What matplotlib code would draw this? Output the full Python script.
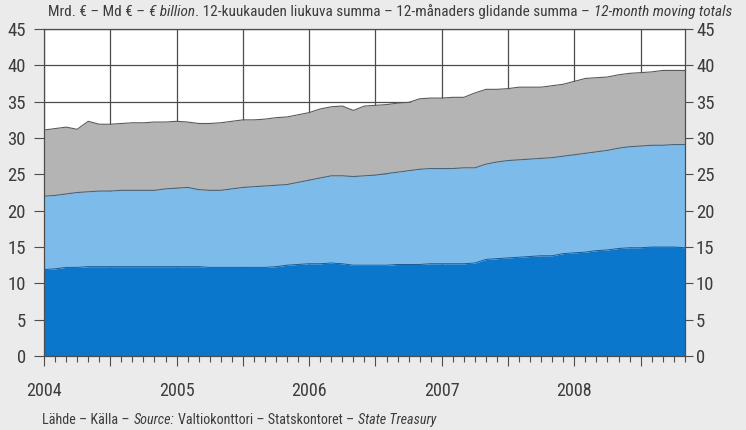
import matplotlib
import numpy as np
from matplotlib import font_manager

matplotlib.use("Agg")
import matplotlib.pyplot as plt

# 12-month moving totals, EUR billion, monthly Jan 2004 - Nov 2008
# stacked levels (cumulative tops of each band)
level_bottom = [11.9, 12.0, 12.2, 12.2, 12.3, 12.3, 12.3, 12.3, 12.3, 12.3,
                12.3, 12.3, 12.3, 12.3, 12.3, 12.2, 12.2, 12.2, 12.2, 12.2,
                12.2, 12.3, 12.5, 12.6, 12.7, 12.7, 12.8, 12.7, 12.5, 12.5,
                12.5, 12.5, 12.6, 12.6, 12.6, 12.7, 12.7, 12.7, 12.7, 12.8,
                13.3, 13.4, 13.5, 13.6, 13.7, 13.8, 13.8, 14.1, 14.2, 14.3,
                14.5, 14.6, 14.8, 14.9, 14.9, 15.0, 15.0, 15.0, 14.9]
level_middle = [22.0, 22.1, 22.3, 22.5, 22.6, 22.7, 22.7, 22.8, 22.8, 22.8,
                22.8, 23.0, 23.1, 23.2, 22.9, 22.8, 22.8, 23.0, 23.2, 23.3,
                23.4, 23.5, 23.6, 23.9, 24.2, 24.5, 24.8, 24.8, 24.7, 24.8,
                24.9, 25.1, 25.3, 25.5, 25.7, 25.8, 25.8, 25.8, 25.9, 25.9,
                26.4, 26.7, 26.9, 27.0, 27.1, 27.2, 27.3, 27.5, 27.7, 27.9,
                28.1, 28.3, 28.6, 28.8, 28.9, 29.0, 29.0, 29.1, 29.1]
level_total = [31.1, 31.3, 31.5, 31.2, 32.3, 31.9, 31.9, 32.0, 32.1, 32.1,
               32.2, 32.2, 32.3, 32.2, 32.0, 32.0, 32.1, 32.3, 32.5, 32.5,
               32.6, 32.8, 32.9, 33.2, 33.5, 34.0, 34.3, 34.4, 33.8, 34.4,
               34.5, 34.6, 34.8, 34.9, 35.4, 35.5, 35.5, 35.6, 35.6, 36.2,
               36.7, 36.7, 36.8, 37.0, 37.0, 37.0, 37.2, 37.4, 37.8, 38.2,
               38.3, 38.4, 38.7, 38.9, 39.0, 39.1, 39.3, 39.3, 39.3]
years = ["2004", "2005", "2006", "2007", "2008"]
title_parts = [("Mrd. € – Md € –", "normal"), ("€ billion", "italic"),
               (". 12-kuukauden liukuva summa – 12-månaders glidande summa –", "normal"),
               ("12-month moving totals", "italic")]
source_parts = [("Lähde – Källa –", "normal"), ("Source:", "italic"),
                ("Valtiokonttori – Statskontoret –", "normal"),
                ("State Treasury", "italic")]

# a condensed face is closest to the original typeface
fonts = font_manager.fontManager.ttflist
installed = {f.name for f in fonts}
narrow = [n for n in ["Liberation Sans Narrow", "Roboto Condensed", "Open Sans Condensed"]
          if n in installed]
if narrow:
    plt.rcParams["font.family"] = [narrow[0], "DejaVu Sans"]
else:
    plt.rcParams["font.family"] = ["DejaVu Sans"]
    if any(f.name == "DejaVu Sans" and f.stretch == "condensed" for f in fonts):
        plt.rcParams["font.stretch"] = "condensed"

BG = "#ebebeb"
TXT = "#3c3c3c"
GRID = "#4d4d4d"

months = np.arange(len(level_total))

fig = plt.figure(figsize=(7.46, 4.30), dpi=100, facecolor=BG)
ax = fig.add_axes([0.059, 0.172, 0.859, 0.7605])
ax.set_facecolor("white")

zero = np.zeros(len(months))
ax.fill_between(months, zero, level_bottom, color="#0a76cc", lw=0)
ax.fill_between(months, level_bottom, level_middle, color="#7cbbea", lw=0)
ax.fill_between(months, level_middle, level_total, color="#b4b4b4", lw=0)
ax.plot(months, level_bottom, color="#1a5a90", lw=0.7)
ax.plot(months, level_middle, color="#4a6478", lw=0.8)
ax.plot(months, level_total, color="#5a5a5a", lw=0.8)

ax.set_xlim(0, months[-1])
ax.set_ylim(0, 45)
ax.set_yticks(np.arange(0, 46, 5))
ax.set_xticks(np.arange(0, months[-1] + 1, 6))
ax.set_xticks(months, minor=True)
ax.set_xticklabels([])
ax.set_axisbelow(True)
ax.grid(True, color=GRID, lw=0.9)

for i, y in enumerate(years):
    ax.text(i * 12, -4.8, y, ha="center", va="center", fontsize=13, color=TXT)

ax.tick_params(axis="x", which="major", direction="out", length=7, width=0.8, color=GRID)
ax.tick_params(axis="x", which="minor", direction="out", length=4, width=0.8, color=GRID)
ax.tick_params(axis="y", direction="out", length=7, width=0.8, color=GRID,
               labelsize=13.5, labelcolor=TXT, pad=6)
for side in ["left", "right", "top", "bottom"]:
    ax.spines[side].set_color(GRID)
    ax.spines[side].set_linewidth(0.9)

ax2 = ax.twinx()
ax2.set_ylim(0, 45)
ax2.set_yticks(np.arange(0, 46, 5))
ax2.tick_params(axis="y", direction="out", length=6, width=0.8, color=GRID,
                labelsize=13.5, labelcolor=TXT, pad=2)
for side in ["left", "right", "top", "bottom"]:
    ax2.spines[side].set_visible(False)


def chain_text(parts, x, y, size, gap=2.8):
    """Write text pieces one after another, switching upright/italic."""
    prev = None
    for text, style in parts:
        if prev is None:
            prev = ax.annotate(text, xy=(x, y), xycoords="figure fraction",
                               ha="left", va="bottom", fontsize=size,
                               style=style, color=TXT, annotation_clip=False)
        else:
            offset = 0 if text.startswith(".") else gap
            prev = ax.annotate(text, xy=(1, 0), xycoords=prev,
                               xytext=(offset, 0), textcoords="offset points",
                               ha="left", va="bottom", fontsize=size,
                               style=style, color=TXT, annotation_clip=False)


chain_text(title_parts, 48 / 746, 0.955, 11)
chain_text(source_parts, 42 / 746, 0.008, 10.2)

fig.savefig("out.png", dpi=100, facecolor=BG)
plt.close(fig)
